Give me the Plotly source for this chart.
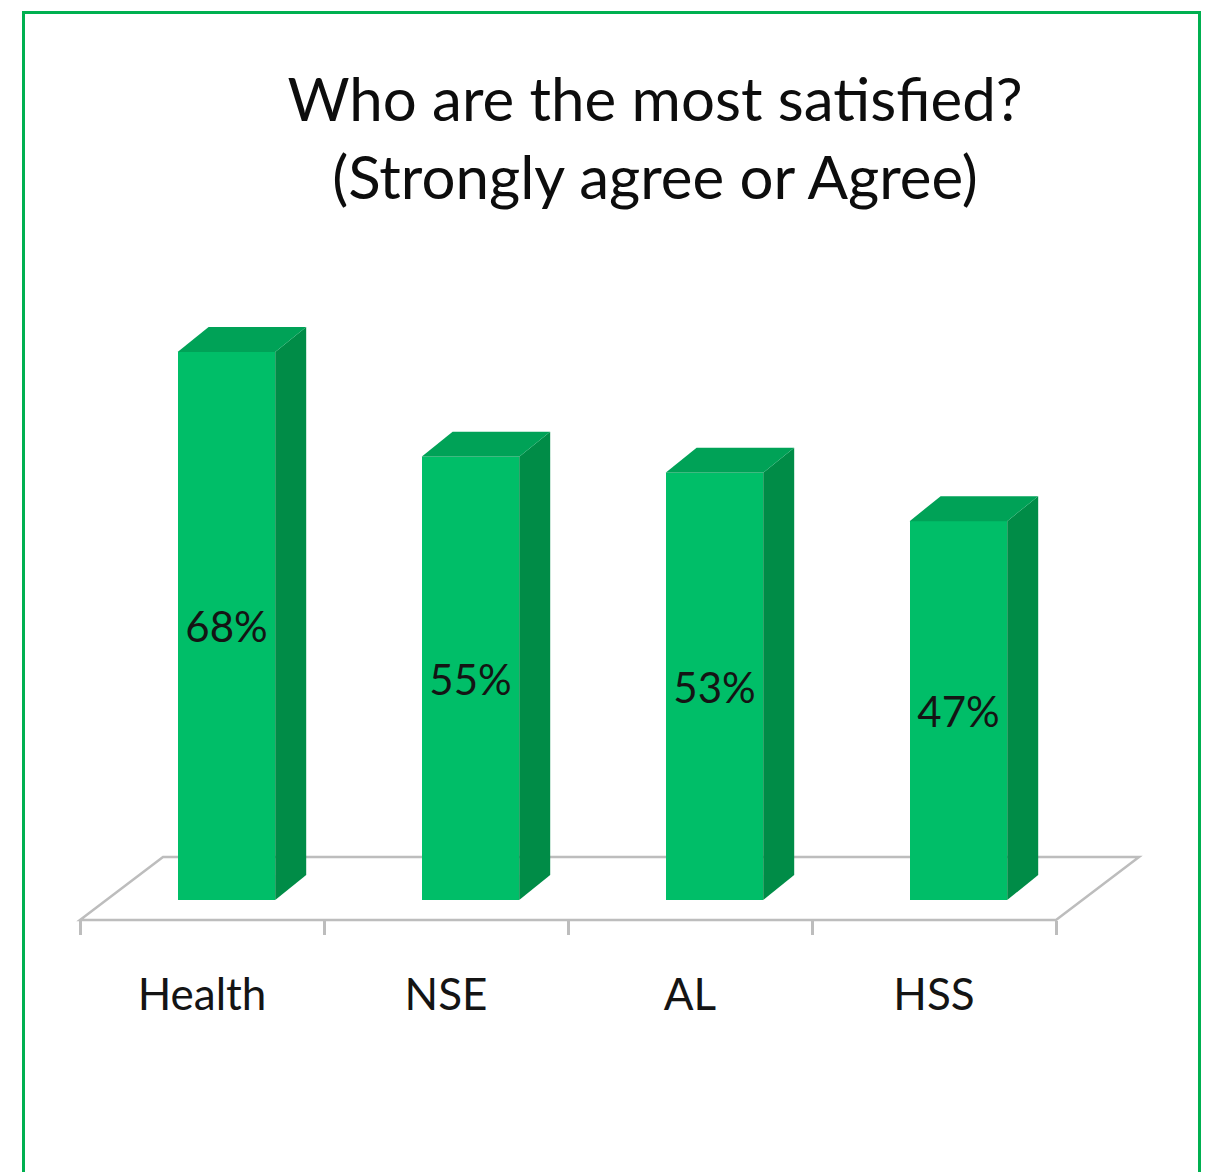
import plotly.graph_objects as go

# ---- data ----
categories = ["Health", "NSE", "AL", "HSS"]
values = [68, 55, 53, 47]
value_labels = ["68%", "55%", "53%", "47%"]
title_lines = ["Who are the most satisfied?", "(Strongly agree or Agree)"]

# ---- style ----
FRONT = "#00BE68"
TOP = "#00A257"
SIDE = "#008C47"
FLOOR = "#BDBDBD"
BORDER = "#00B050"
FONT = "Lato"

W, H = 1207, 1172
# axis ranges (pixel-calibrated)
px_per_x = 244.0
px_per_y = 8.06
x0 = -202.0 / px_per_x
x1 = x0 + W / px_per_x
y0 = -(H - 900.0) / px_per_y
y1 = y0 + H / px_per_y

bar_w = 0.40
bar_off = -0.10
# 3D depth vectors (in data units)
dx, dy = 31.0 / px_per_x, 25.0 / px_per_y
fl_front_dx, fl_front_dy = -25.0 / px_per_x, -20.0 / px_per_y
fl_back_dx, fl_back_dy = 58.0 / px_per_x, 43.0 / px_per_y

n = len(categories)
idx = list(range(n))

fig = go.Figure()

# floor
fx0, fx1 = -0.5, n - 0.5
floor_path = (f"M{fx0},{fl_front_dy} L{fx1},{fl_front_dy} "
              f"L{fx1 + fl_back_dx - fl_front_dx},{fl_back_dy} "
              f"L{fx0 + fl_back_dx - fl_front_dx},{fl_back_dy} Z")
fig.add_shape(type="path", path=floor_path, xref="x", yref="y",
              line=dict(color=FLOOR, width=2.5), fillcolor="white", layer="below")

# front faces
fig.add_trace(go.Bar(
    x=idx, y=values, width=bar_w, offset=bar_off,
    marker=dict(color=FRONT, line=dict(width=0)),
    text=value_labels, textposition="inside", insidetextanchor="middle",
    textangle=0, constraintext="none",
    textfont=dict(family=FONT, size=42, color="#141414"),
    hoverinfo="skip", showlegend=False,
))

# side and top faces
for i, v in zip(idx, values):
    xl = i + bar_off
    xr = xl + bar_w
    side = f"M{xr},0 L{xr},{v} L{xr + dx},{v + dy} L{xr + dx},{dy} Z"
    top = f"M{xl},{v} L{xr},{v} L{xr + dx},{v + dy} L{xl + dx},{v + dy} Z"
    fig.add_shape(type="path", path=side, xref="x", yref="y",
                  fillcolor=SIDE, line=dict(width=0), layer="above")
    fig.add_shape(type="path", path=top, xref="x", yref="y",
                  fillcolor=TOP, line=dict(width=0), layer="above")

# outer green border
fig.add_shape(type="rect", xref="paper", yref="paper",
              x0=23.5 / W, x1=1199.5 / W, y0=-0.05, y1=1 - 12.5 / H,
              line=dict(color=BORDER, width=3), fillcolor="rgba(0,0,0,0)")

fig.update_layout(
    width=W, height=H,
    margin=dict(l=0, r=0, t=0, b=0),
    paper_bgcolor="white", plot_bgcolor="rgba(0,0,0,0)",
    title=dict(text="<br>".join(title_lines), x=655 / W, xanchor="center",
               y=1 - 121 / H, yanchor="top",
               font=dict(family=FONT, size=60, color="#0d0d0d")),
    xaxis=dict(range=[x0, x1], domain=[0, 1], anchor="free",
               position=(H - 920.0) / H,
               tickmode="array", tickvals=idx, ticktext=categories,
               ticks="", showgrid=False, zeroline=False, showline=False,
               ticklabelstandoff=45,
               tickfont=dict(family=FONT, size=44, color="#141414"),
               minor=dict(tickmode="array", tickvals=[k - 0.5 for k in range(n + 1)],
                          ticks="outside", ticklen=14, tickwidth=2.5, tickcolor=FLOOR,
                          showgrid=False)),
    yaxis=dict(range=[y0, y1], domain=[0, 1], visible=False),
    bargap=0,
)

fig.write_html("out.html")
